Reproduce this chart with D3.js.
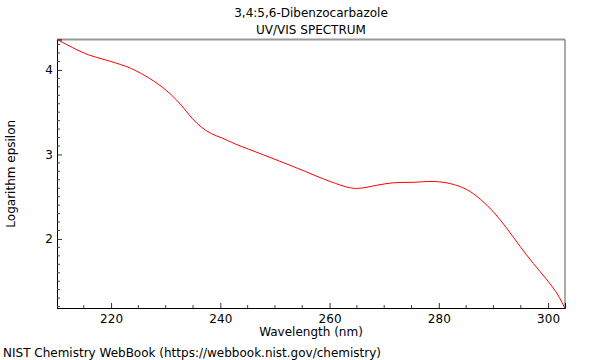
<!DOCTYPE html>
<html><head><meta charset="utf-8">
<script src="https://cdn.jsdelivr.net/npm/d3@7"></script>
<style>body{margin:0;background:#fff}svg{display:block}text{font-family:"DejaVu Sans",sans-serif;}</style>
</head><body>
<svg id="c" width="600" height="360"></svg>
<script>
const titleLines = ["3,4:5,6-Dibenzocarbazole", "UV/VIS SPECTRUM"];
const xLabel = "Wavelength (nm)";
const yLabel = "Logarithm epsilon";
const footer = "NIST Chemistry WebBook (https://webbook.nist.gov/chemistry)";
const wavelength = [210.1,213.4,215.8,218.9,222.6,224.4,226.8,229.3,231.1,232.9,234.8,236.6,238.4,240.3,242.7,247.9,254.0,260.1,263.8,265.6,268.6,271.7,275.3,279.0,282.1,285.1,287.6,290.0,292.4,294.9,297.3,299.8,301.6,303.1];
const logEps = [4.36,4.25,4.18,4.12,4.045,3.995,3.91,3.80,3.70,3.58,3.43,3.32,3.245,3.195,3.125,2.995,2.84,2.68,2.605,2.60,2.635,2.665,2.67,2.68,2.655,2.585,2.47,2.32,2.13,1.91,1.71,1.515,1.36,1.18];
const xTicks = [220,240,260,280,300];
const yTicks = [2,3,4];

const svg = d3.select("#c");
const L=57, R=565, T=39.5, B=308;
const x = d3.scaleLinear().domain([210.1,303.1]).range([L,R]);
const y = d3.scaleLinear().domain([1.183,4.36]).range([B,T]);

// frame top/right
svg.append("line").attr("x1",L).attr("x2",R).attr("y1",T).attr("y2",T).attr("stroke","#999").attr("stroke-width",2);
svg.append("line").attr("x1",R).attr("x2",R).attr("y1",T).attr("y2",B).attr("stroke","#555").attr("stroke-width",1);

// minor ticks
const xMinor = d3.range(215,303,5).filter(v=>!xTicks.includes(v));
const yMinor = d3.range(12,44).map(v=>v/10).filter(v=>!yTicks.includes(v) && v>=1.183 && v<=4.36);

const gx = svg.append("g").attr("transform",`translate(0,${B})`);
gx.call(d3.axisBottom(x).tickValues(xTicks).tickSize(-5).tickPadding(6).tickFormat(d3.format("d")));
gx.selectAll(".tick text").attr("font-size",12).attr("fill","#000").attr("font-family","DejaVu Sans");
gx.select(".domain").attr("stroke","#000");
gx.selectAll(".tick line").attr("stroke","#333");
gx.selectAll(".minor").data(xMinor).enter().append("line").attr("x1",d=>x(d)).attr("x2",d=>x(d)).attr("y1",0).attr("y2",-3).attr("stroke","#444");

const gy = svg.append("g").attr("transform",`translate(${L},0)`);
gy.call(d3.axisLeft(y).tickValues(yTicks).tickSize(-5).tickPadding(4).tickFormat(d3.format("d")));
gy.selectAll(".tick text").attr("font-size",12).attr("fill","#000").attr("font-family","DejaVu Sans");
gy.select(".domain").attr("stroke","#000");
gy.selectAll(".tick line").attr("stroke","#333");
gy.selectAll(".minor").data(yMinor).enter().append("line").attr("x1",0).attr("x2",3).attr("y1",d=>y(d)).attr("y2",d=>y(d)).attr("stroke","#444");

// curve
const line = d3.line().x((d,i)=>x(wavelength[i])).y(d=>y(d)).curve(d3.curveCatmullRom.alpha(0.5));
svg.append("path").datum(logEps).attr("d",line).attr("fill","none").attr("stroke","#ff0000").attr("stroke-width",1);

// texts
titleLines.forEach((t,i)=>svg.append("text").attr("x",311).attr("y",17+i*17).attr("text-anchor","middle").attr("font-size",12).text(t));
svg.append("text").attr("x",311).attr("y",336).attr("text-anchor","middle").attr("font-size",12).text(xLabel);
svg.append("text").attr("transform",`translate(15,${(T+B)/2}) rotate(-90)`).attr("text-anchor","middle").attr("font-size",12).text(yLabel);
svg.append("text").attr("x",3).attr("y",357).attr("font-size",12).text(footer);
</script>
</body></html>
